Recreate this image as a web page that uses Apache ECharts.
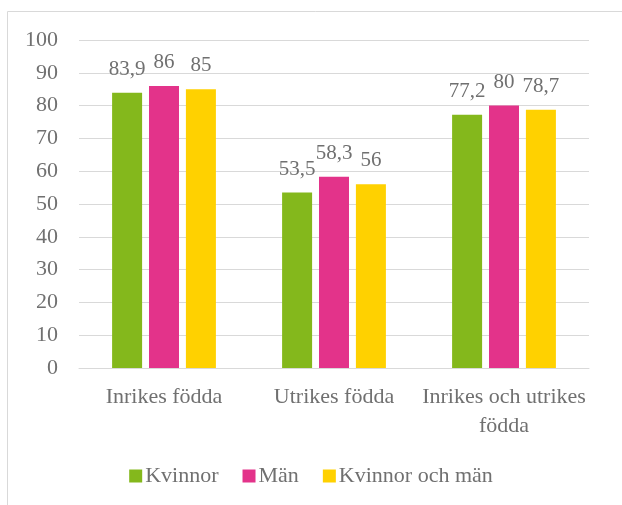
<!DOCTYPE html>
<html>
<head>
<meta charset="utf-8">
<script src="https://cdn.jsdelivr.net/npm/echarts@6/dist/echarts.min.js"></script>
<style>
  html, body { margin: 0; padding: 0; background: #fff; overflow: hidden; }
  #chart { width: 622px; height: 505px; }
</style>
</head>
<body>
<div id="chart"></div>
<script>
var categories = ['Inrikes födda', 'Utrikes födda', 'Inrikes och utrikes\nfödda'];
var kvinnor = [83.9, 53.5, 77.2];
var man = [86, 58.3, 80];
var kvinnorOchMan = [85, 56, 78.7];
var yTicks = { min: 0, max: 100, interval: 10 };

var textColor = '#707070';
var fontFam = '"Liberation Serif", serif';

function labelStyle() {
  return {
    show: true,
    position: 'top',
    distance: 13,
    color: textColor,
    fontFamily: fontFam,
    fontSize: 21,
    formatter: function (p) {
      return String(p.value).replace('.', ',');
    }
  };
}

var myChart = echarts.init(document.getElementById('chart'));
var option = {
  animation: false,
  graphic: [{
    type: 'rect',
    shape: { x: 7.5, y: 11.5, width: 700, height: 600 },
    style: { fill: 'none', stroke: '#d9d9d9', lineWidth: 1 }
  }],
  grid: {
    top: 40,
    left: 79,
    right: 33,
    bottom: 137
  },
  legend: {
    bottom: 13,
    left: 'center',
    itemWidth: 13,
    itemHeight: 13,
    itemGap: 24,
    icon: 'rect',
    textStyle: {
      color: textColor,
      fontFamily: fontFam,
      fontSize: 22,
      padding: [0, 0, 0, -2]
    },
    data: ['Kvinnor', 'Män', 'Kvinnor och män']
  },
  xAxis: [{
    type: 'category',
    data: categories,
    axisLine: {
      lineStyle: { color: '#d9d9d9', width: 1 }
    },
    axisTick: { show: false },
    axisLabel: {
      color: textColor,
      fontFamily: fontFam,
      fontSize: 22,
      margin: 15,
      lineHeight: 29,
      interval: 0
    }
  }],
  yAxis: [{
    type: 'value',
    min: yTicks.min,
    max: yTicks.max,
    interval: yTicks.interval,
    axisLine: { show: false },
    axisTick: { show: false },
    axisLabel: {
      color: textColor,
      fontFamily: fontFam,
      fontSize: 22,
      margin: 21
    },
    splitLine: {
      lineStyle: { color: '#d9d9d9', width: 1 }
    }
  }],
  series: [{
    name: 'Kvinnor',
    type: 'bar',
    data: kvinnor,
    barWidth: 30,
    barGap: '23%',
    itemStyle: { color: '#84B81C' },
    label: labelStyle()
  }, {
    name: 'Män',
    type: 'bar',
    data: man,
    barWidth: 30,
    barGap: '23%',
    itemStyle: { color: '#E3338A' },
    label: labelStyle()
  }, {
    name: 'Kvinnor och män',
    type: 'bar',
    data: kvinnorOchMan,
    barWidth: 30,
    barGap: '23%',
    itemStyle: { color: '#FFD100' },
    label: labelStyle()
  }]
};
myChart.setOption(option);
</script>
</body>
</html>
